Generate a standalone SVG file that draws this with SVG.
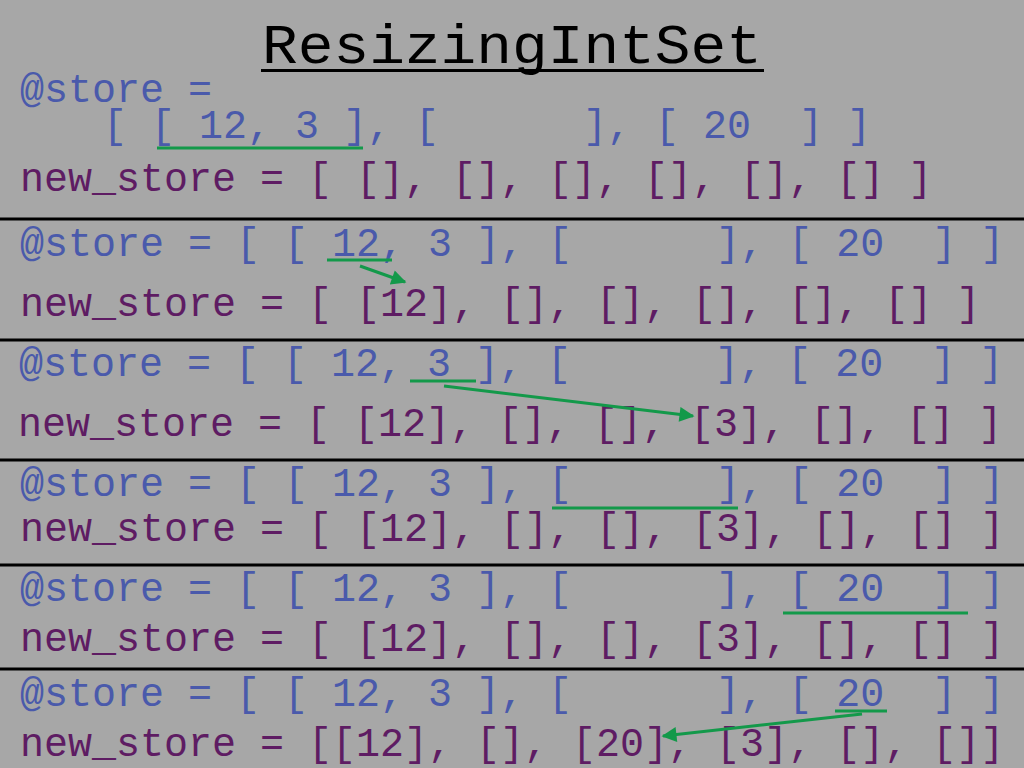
<svg xmlns="http://www.w3.org/2000/svg" width="1024" height="768" viewBox="0 0 1024 768">
<style>
.t{font-family:"Liberation Mono","DejaVu Sans Mono",monospace;font-size:40px;white-space:pre}
.s{fill:#4a5aab}
.n{fill:#5e1c63}
.sep{stroke:#000;stroke-width:3}
.ul{stroke:#13994a;stroke-width:3;fill:none}
.ar{stroke:#13994a;stroke-width:3;fill:none;marker-end:url(#ah)}
</style>
<defs>
<marker id="ah" viewBox="0 0 10 10" refX="9" refY="5" markerWidth="5.5" markerHeight="5" markerUnits="strokeWidth" orient="auto">
<path d="M0,0 L10,5 L0,10 Z" fill="#13994a"/>
</marker>
</defs>
<rect width="1024" height="768" fill="#a7a7a7"/>
<g id="title">
<text x="512" y="63" text-anchor="middle" textLength="500" lengthAdjust="spacingAndGlyphs" style="font-family:'Liberation Mono',monospace;font-size:56px" fill="#000">ResizingIntSet</text>
<line x1="261" y1="70.5" x2="764" y2="70.5" stroke="#000" stroke-width="3"/>
</g>
<g id="separators">
<line class="sep" x1="0" y1="219" x2="1024" y2="219"/>
<line class="sep" x1="0" y1="340" x2="1024" y2="340"/>
<line class="sep" x1="0" y1="460" x2="1024" y2="460"/>
<line class="sep" x1="0" y1="565" x2="1024" y2="565"/>
<line class="sep" x1="0" y1="669" x2="1024" y2="669"/>
</g>
<g id="step1">
<text class="t s" x="20" y="102" xml:space="preserve">@store =</text>
<text class="t s" x="103" y="138" xml:space="preserve">[ [ 12, 3 ], [      ], [ 20  ] ]</text>
<text class="t n" x="20" y="191" xml:space="preserve">new_store = [ [], [], [], [], [], [] ]</text>
<line class="ul" x1="157" y1="148" x2="363" y2="148"/>
</g>
<g id="step2">
<text class="t s" x="20" y="256" xml:space="preserve">@store = [ [ 12, 3 ], [      ], [ 20  ] ]</text>
<text class="t n" x="20" y="316" xml:space="preserve">new_store = [ [12], [], [], [], [], [] ]</text>
<line class="ul" x1="327" y1="260" x2="392" y2="260"/>
</g>
<g id="step3">
<text class="t s" x="19" y="376" xml:space="preserve">@store = [ [ 12, 3 ], [      ], [ 20  ] ]</text>
<text class="t n" x="18" y="436" xml:space="preserve">new_store = [ [12], [], [], [3], [], [] ]</text>
<line class="ul" x1="410" y1="381" x2="476" y2="381"/>
</g>
<g id="step4">
<text class="t s" x="20" y="496" xml:space="preserve">@store = [ [ 12, 3 ], [      ], [ 20  ] ]</text>
<text class="t n" x="20" y="541" xml:space="preserve">new_store = [ [12], [], [], [3], [], [] ]</text>
<line class="ul" x1="552" y1="508" x2="738" y2="508"/>
</g>
<g id="step5">
<text class="t s" x="20" y="601" xml:space="preserve">@store = [ [ 12, 3 ], [      ], [ 20  ] ]</text>
<text class="t n" x="20" y="651" xml:space="preserve">new_store = [ [12], [], [], [3], [], [] ]</text>
<line class="ul" x1="783" y1="613" x2="968" y2="613"/>
</g>
<g id="step6">
<text class="t s" x="20" y="706" xml:space="preserve">@store = [ [ 12, 3 ], [      ], [ 20  ] ]</text>
<text class="t n" x="20" y="756" xml:space="preserve">new_store = [[12], [], [20], [3], [], []]</text>
<line class="ul" x1="835" y1="711" x2="887" y2="711"/>
</g>
<g id="connectors">
<line class="ar" x1="360" y1="266" x2="405" y2="282"/>
<line class="ar" x1="444" y1="386" x2="693" y2="416"/>
<line class="ar" x1="862" y1="714" x2="663" y2="736"/>
</g>
</svg>
